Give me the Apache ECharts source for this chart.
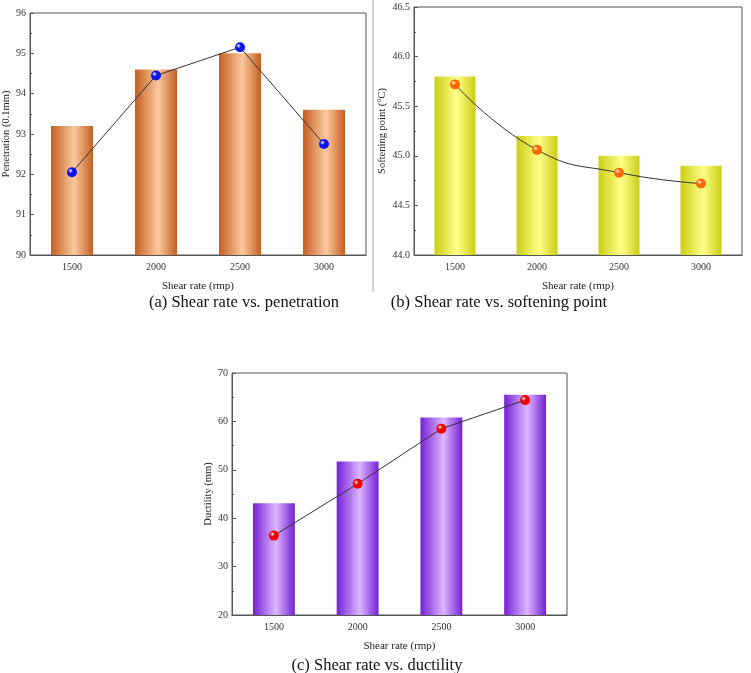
<!DOCTYPE html>
<html>
<head>
<meta charset="utf-8">
<script src="https://cdn.jsdelivr.net/npm/echarts@6/dist/echarts.min.js"></script>
<style>
  html, body { margin: 0; padding: 0; background: #fff; }
  #chart { width: 751px; height: 673px; }
</style>
</head>
<body>
<div id="chart"></div>
<script>
const shearRates = ['1500', '2000', '2500', '3000']

// (a) penetration
const penetrationBars = [93.2, 94.6, 95.0, 93.6]
const penetrationPoints = [92.05, 94.45, 95.15, 92.75]
// (b) softening point
const softeningBars = [45.8, 45.2, 45.0, 44.9]
const softeningPoints = [45.72, 45.06, 44.83, 44.72]
// (c) ductility
const ductilityBars = [43.1, 51.7, 60.8, 65.5]
const ductilityPoints = [36.4, 47.1, 58.5, 64.4]

const captions = [
  '(a) Shear rate vs. penetration',
  '(b) Shear rate vs. softening point',
  '(c) Shear rate vs. ductility'
]

const FONT = '"Liberation Serif", "Times New Roman", serif'
const el = document.getElementById('chart')
const chart = echarts.init(el)

// bars look like cylinders: dark edges, light middle
function barFill(dark, light) {
  return new echarts.graphic.LinearGradient(0, 0, 1, 0, [
    { offset: 0, color: dark },
    { offset: 0.55, color: light },
    { offset: 1, color: dark }
  ])
}

// little shaded balls for the points
function ball(color) {
  return new echarts.graphic.RadialGradient(0.35, 0.35, 0.7, [
    { offset: 0, color: '#ffffff' },
    { offset: 0.35, color: color },
    { offset: 1, color: color }
  ])
}

const grids = [
  { left: 30, top: 13, width: 336, height: 242 },
  { left: 414, top: 7, width: 328, height: 248 },
  { left: 232, top: 373, width: 335, height: 242 }
]

function xAxis(i) {
  return {
    type: 'category',
    gridIndex: i,
    data: shearRates,
    name: 'Shear rate (rmp)',
    nameLocation: 'middle',
    nameGap: 26,
    nameTextStyle: { fontFamily: FONT, fontSize: 11, color: '#222' },
    axisLine: { lineStyle: { color: '#555' } },
    axisTick: { show: false },
    axisLabel: { fontFamily: FONT, fontSize: 10, color: '#333', margin: 7 }
  }
}

function yAxis(i, name, min, max, interval, digits, gap) {
  return {
    type: 'value',
    gridIndex: i,
    min: min,
    max: max,
    interval: interval,
    name: name,
    nameLocation: 'middle',
    nameGap: gap,
    nameTextStyle: { fontFamily: FONT, fontSize: 10.5, color: '#222' },
    axisLine: { show: true, lineStyle: { color: '#555' } },
    axisTick: { show: true, inside: true, length: 4, lineStyle: { color: '#555' } },
    minorTick: { show: true, splitNumber: 2, length: 2, lineStyle: { color: '#555' } },
    splitLine: { show: false },
    axisLabel: {
      fontFamily: FONT, fontSize: 10, color: '#333', margin: 4,
      formatter: v => v.toFixed(digits)
    }
  }
}

function barSeries(i, data, dark, light) {
  return {
    type: 'bar',
    xAxisIndex: i,
    yAxisIndex: i,
    data: data,
    barWidth: '50%',
    itemStyle: { color: barFill(dark, light) },
    silent: true
  }
}

function lineSeries(i, data, color, smooth) {
  return {
    type: 'line',
    xAxisIndex: i,
    yAxisIndex: i,
    data: data,
    smooth: smooth,
    symbol: 'circle',
    symbolSize: 10,
    lineStyle: { color: '#333', width: 1 },
    itemStyle: { color: ball(color), borderWidth: 0 },
    z: 5,
    silent: true
  }
}

chart.setOption({
  animation: false,
  backgroundColor: '#fff',
  grid: grids.map(g => Object.assign({
    show: true, borderColor: '#555', borderWidth: 1, backgroundColor: 'transparent',
    containLabel: false, outerBoundsMode: 'none'
  }, g)),
  xAxis: [xAxis(0), xAxis(1), xAxis(2)],
  yAxis: [
    yAxis(0, 'Penetration (0.1mm)', 90, 96, 1, 0, 18),
    yAxis(1, 'Softening point (\u00b0C)', 44, 46.5, 0.5, 1, 26),
    yAxis(2, 'Ductility (mm)', 20, 70, 10, 0, 18)
  ],
  title: [
    { text: captions[0], left: 239, top: 289, textAlign: 'center' },
    { text: captions[1], left: 494, top: 289, textAlign: 'center' },
    { text: captions[2], left: 372, top: 652, textAlign: 'center' }
  ].map(t => Object.assign(t, {
    textStyle: { fontFamily: FONT, fontSize: 16.5, fontWeight: 'normal', color: '#111' }
  })),
  graphic: [
    {
      type: 'line',
      shape: { x1: 373, y1: 0, x2: 373, y2: 292 },
      style: { stroke: '#aaa', lineWidth: 1 }
    }
  ],
  series: [
    barSeries(0, penetrationBars, '#c55e22', '#fbc99d'),
    lineSeries(0, penetrationPoints, '#0a14f0', false),
    barSeries(1, softeningBars, '#cccc14', '#ffff8a'),
    lineSeries(1, softeningPoints, '#ff6a00', 0.5),
    barSeries(2, ductilityBars, '#7420d4', '#dcb6ff'),
    lineSeries(2, ductilityPoints, '#ee0000', false)
  ]
})

window.addEventListener('resize', () => chart.resize())
</script>
</body>
</html>
